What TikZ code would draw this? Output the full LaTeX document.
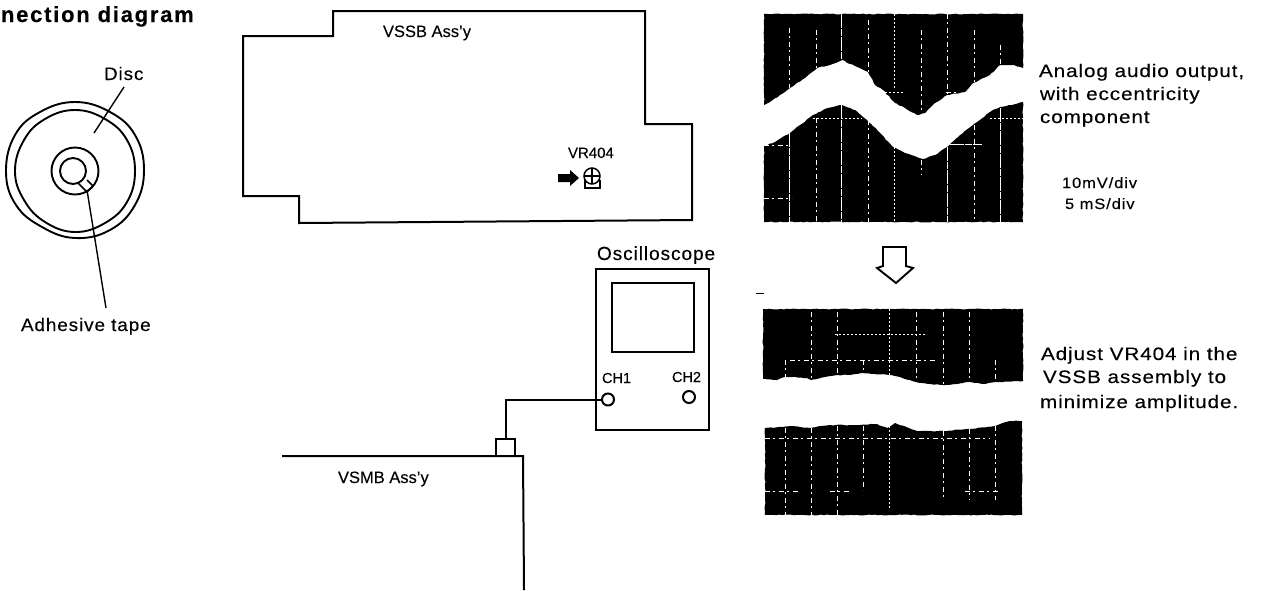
\documentclass[tikz,border=0pt]{standalone}
\usepackage{fontspec}
\usetikzlibrary{decorations.pathmorphing}
\setmainfont{Liberation Sans}[FakeBold=0.15]
\newfontfamily\wideface[LetterSpace=5,FakeStretch=1.15,FakeBold=0.2]{Liberation Sans}
\newfontfamily\smallface[LetterSpace=6,FakeStretch=1.1,FakeBold=0.1]{Liberation Sans}
\newfontfamily\midface[LetterSpace=5,FakeStretch=1.05,FakeBold=0.2]{Liberation Sans}
\newfontfamily\oscface[LetterSpace=5,FakeBold=0.2]{Liberation Sans}
\newfontfamily\boldface[LetterSpace=8,FakeBold=0.3]{Liberation Sans Bold}
\tikzset{
  lab/.style={anchor=base west,inner sep=0pt,outer sep=0pt,text=black},
  wide/.style={lab,font=\wideface\fontsize{18}{18}\selectfont},
  small/.style={lab,font=\smallface\fontsize{15}{15}\selectfont},
  mid/.style={lab,font=\midface\fontsize{18}{18}\selectfont},
  thin lab/.style={lab,font=\fontsize{16.5}{16.5}\selectfont},
  title/.style={lab,font=\boldface\fontsize{22}{22}\selectfont},
  board/.style={draw=black,line width=2pt,line join=miter},
  disc/.style={draw=black,line width=1.9pt},
  lead/.style={draw=black,line width=1.4pt},
  rough/.style={fill=black,decorate,decoration={random steps,segment length=3pt,amplitude=.45pt}},
  grid/.style={draw=white,line width=.7pt,dash pattern=on 14pt off 1pt on 7pt off 1pt},
  griddash/.style={draw=white,line width=.6pt,dash pattern=on 5pt off 3pt on 2pt off 4pt},
  griddot/.style={draw=white,line width=1pt,dash pattern=on 1.5pt off 2.5pt},
  jack/.style={circle,draw=black,line width=2pt,minimum size=12pt,inner sep=0pt},
}
\pgfmathsetseed{7}
\begin{document}
\begin{tikzpicture}[x=1pt,y=-1pt]
\useasboundingbox (0,0) rectangle (1261,590);
% title
\node[title] (ttl) at (1,22) {nection diagram};
% disc
\draw[disc] plot[smooth cycle,tension=.7] coordinates {(75,102)(110,112)(135,135)(144,170)(135,205)(110,230)(75,238)(42,227)(16,205)(6,172)(15,135)(40,112)};
\draw[disc] plot[smooth cycle,tension=.7] coordinates {(75,110)(105,119)(127,140)(135,171)(127,202)(105,223)(75,232)(45,222)(24,200)(15,171)(24,140)(45,119)};
\node[circle,draw=black,line width=1.9pt,minimum size=47pt,inner sep=0pt] (hub) at (75,171) {};
\node[circle,draw=black,line width=1.9pt,minimum size=26pt,inner sep=0pt] (hole) at (73,171) {};
\draw[disc,line width=1.5pt] (78,183) -- (87,192) -- (93,186) -- (87,180);
\node[mid] (disclab) at (104,80) {Disc};
\coordinate (dtop) at (124,87);
\coordinate (dbot) at (94,133);
\draw[lead] (dtop) -- (dbot);
\coordinate (ttop) at (87,190);
\coordinate (tbot) at (106,308);
\draw[lead] (ttop) -- (tbot);
\node[mid] (tapelab) at (21,331) {Adhesive tape};
% VSSB board
\draw[board] (243,36) -- (333,36) -- (333,11) -- (645,11) -- (645,124) -- (692,124) -- (692,220) -- (299,223) -- (299,196) -- (243,196) -- cycle;
\node[thin lab] (vssb) at (383,37) {VSSB Ass'y};
\node[lab,font=\fontsize{15}{15}\selectfont] (vrlab) at (568,158) {VR404};
\fill[black] (558,174) -- (570,174) -- (570,170) -- (579,178) -- (570,186) -- (570,182) -- (558,182) -- cycle;
\node[circle,draw=black,line width=1.5pt,minimum size=16pt,inner sep=0pt] (pot) at (592,176) {};
\draw[black,line width=1.5pt] (585,180) -- (585,188) -- (600,188) -- (600,180);
\draw[black,line width=1.5pt] (585,176) -- (599,176) (592,169) -- (592,183);
% oscilloscope
\node[lab,font=\oscface\fontsize{19}{19}\selectfont] (osclab) at (597,260) {Oscilloscope};
\draw[board] (596,269) rectangle (709,430);
\draw[board] (612,283) rectangle (694,352);
\node[lab,font=\fontsize{14.5}{14.5}\selectfont] (chone) at (602,383) {CH1};
\node[lab,font=\fontsize{14.5}{14.5}\selectfont] (chtwo) at (672,382) {CH2};
\node[jack] (ch1) at (608,399.5) {};
\node[jack] (ch2) at (689,397) {};
% VSMB
\node[draw=black,line width=2pt,minimum width=19pt,minimum height=17pt,inner sep=0pt] (conn) at (505.5,447.5) {};
\draw[board] (ch1.west) -| (conn.north);
\draw[board] (282,456) -- (523,456) -- (524,590);
\node[thin lab] (vsmb) at (338,483) {VSMB Ass'y};
% top trace
\path[rough] (764,14) -- (1023,14) -- (1023,68) -- (1012,65) -- (1000,65) -- (990,75) -- (973,83) -- (965,92) -- (947,95) -- (935,103) -- (925,113) -- (917,115) -- (905,108) -- (895,103) -- (883,90) -- (875,85) -- (868,72) -- (855,66) -- (842,60) -- (830,65) -- (817,68) -- (805,78) -- (790,88) -- (780,95) -- (770,102) -- (764,105) -- cycle;
\path[rough] (764,146) -- (775,142) -- (790,133) -- (800,125) -- (813,115) -- (828,108) -- (842,105) -- (855,110) -- (867,120) -- (880,133) -- (893,147) -- (905,153) -- (923,159) -- (935,155) -- (947,147) -- (960,135) -- (977,122) -- (990,112) -- (1000,107) -- (1012,105) -- (1023,102) -- (1023,222) -- (764,222) -- cycle;
\draw[griddash] (789,28) -- (789,88);
\draw[griddash] (816,30) -- (816,68);
\draw[grid] (841,14) -- (841,60);
\draw[griddash] (868,20) -- (868,72);
\draw[griddot] (894,14) -- (894,90);
\draw[griddash] (921,30) -- (921,113);
\draw[griddash] (947,14) -- (947,95);
\draw[griddash] (974,30) -- (974,83);
\draw[griddash] (1000,45) -- (1000,66);
\draw[griddot] (885,92) -- (905,92);
\draw[griddash] (946,92) -- (960,92);
\draw[grid] (789,133) -- (789,222);
\draw[griddash] (816,118) -- (816,222);
\draw[grid] (841,105) -- (841,222);
\draw[griddash] (868,120) -- (868,222);
\draw[griddot] (894,147) -- (894,222);
\draw[griddash] (921,160) -- (921,175);
\draw[grid] (947,147) -- (947,222);
\draw[griddash] (974,125) -- (974,222);
\draw[grid] (1000,108) -- (1000,222);
\draw[griddot] (813,118) -- (862,118);
\draw[griddot] (990,118) -- (1023,118);
\draw[griddash] (764,145) -- (790,145);
\draw[grid] (950,144) -- (982,144);
\draw[griddash] (764,198) -- (792,198);
% arrow
\draw[draw=black,line width=1.9pt,line join=miter] (883,247) -- (906,247) -- (906,266) -- (913,268) -- (896,283) -- (877,268) -- (883,266) -- cycle;
\draw[black,line width=.6pt] (756,293) -- (764,293);
% lower trace
\path[rough] (763,309) -- (1023,309) -- (1023,381) -- (995,382) -- (983,384) -- (969,382) -- (957,384) -- (943,385) -- (930,384) -- (916,382) -- (900,377) -- (889,375) -- (863,373) -- (850,375) -- (837,375) -- (825,377) -- (811,380) -- (807,378) -- (793,377) -- (785,377) -- (777,380) -- (763,379) -- cycle;
\path[rough] (765,428) -- (783,427) -- (792,426) -- (810,428) -- (830,425) -- (850,425) -- (877,424) -- (887,428) -- (895,423) -- (917,431) -- (943,431) -- (967,429) -- (995,426) -- (1010,421) -- (1022,421) -- (1022,515) -- (765,515) -- cycle;
\draw[griddot] (889,309) -- (889,375);
\draw[griddash] (916,312) -- (916,380);
\draw[griddash] (943,312) -- (943,384);
\draw[griddash] (969,312) -- (969,382);
\draw[griddash] (811,312) -- (811,378);
\draw[griddash] (837,312) -- (837,375);
\draw[griddash] (863,360) -- (863,373);
\draw[griddash] (785,360) -- (785,377);
\draw[griddash] (995,360) -- (995,382);
\draw[griddash] (790,360) -- (935,360);
\draw[griddot] (835,334) -- (925,334);
\draw[griddash] (765,438) -- (990,438);
\draw[griddash] (785,428) -- (785,515);
\draw[griddash] (811,428) -- (811,515);
\draw[griddash] (837,426) -- (837,515);
\draw[griddash] (863,426) -- (863,490);
\draw[griddot] (889,426) -- (889,510);
\draw[griddash] (943,431) -- (943,500);
\draw[griddash] (969,429) -- (969,500);
\draw[griddash] (995,426) -- (995,500);
\draw[griddash] (765,491) -- (800,491);
\draw[griddash] (830,491) -- (850,491);
\draw[griddash] (965,491) -- (1000,491);
% right text
\node[wide] (t1) at (1039,77) {Analog audio output,};
\node[wide] (t2) at (1040,100) {with eccentricity};
\node[wide] (t3) at (1040,123) {component};
\node[small] (t4) at (1062,188) {10mV/div};
\node[small] (t5) at (1065,209) {5 mS/div};
\node[wide] (t6) at (1041,360) {Adjust VR404 in the};
\node[wide] (t7) at (1043,383) {VSSB assembly to};
\node[wide] (t8) at (1040,408) {minimize amplitude.};
\end{tikzpicture}
\end{document}
